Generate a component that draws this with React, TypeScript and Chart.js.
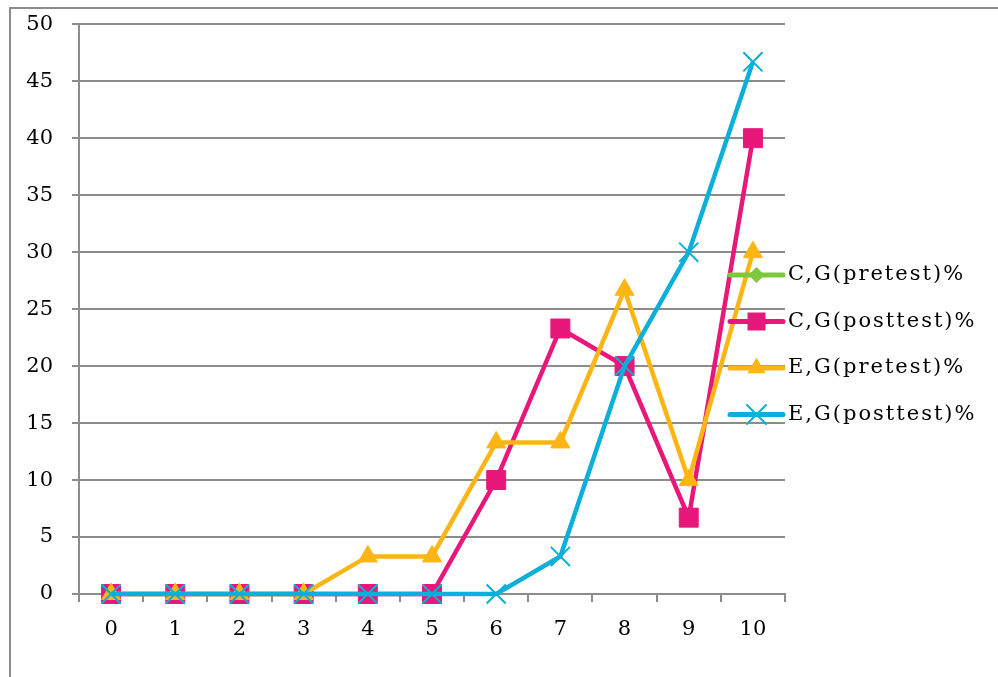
import React, { useEffect, useRef } from "react";
import { Chart, registerables } from "chart.js";

Chart.register(...registerables);

// Score categories on the horizontal axis
const scores = ["0", "1", "2", "3", "4", "5", "6", "7", "8", "9", "10"];

// Percentage of students per score
const cgPretest: (number | null)[] = [null, null, null, null, null, null, null, null, null, null, null];
const cgPosttest = [0, 0, 0, 0, 0, 0, 10, 23.3, 20, 6.7, 40];
const egPretest = [0, 0, 0, 0, 3.3, 3.3, 13.3, 13.3, 26.7, 10, 30];
const egPosttest = [0, 0, 0, 0, 0, 0, 0, 3.3, 20, 30, 46.7];

const seriesNames = ["C,G(pretest)%", "C,G(posttest)%", "E,G(pretest)%", "E,G(posttest)%"];
const seriesColors = ["#7DC83C", "#E8177A", "#FDB515", "#0BAFD9"];
const seriesMarkers = ["rectRot", "rect", "triangle", "crossRot"];

const GRID = "#8C8C8C";
const FONT = "'DejaVu Serif', serif";
const FONT_SIZE = 21;

function marker(ctx: CanvasRenderingContext2D, style: string, x: number, y: number, color: string) {
  ctx.save();
  ctx.fillStyle = color;
  ctx.strokeStyle = color;
  ctx.beginPath();
  if (style === "rect") {
    const h = 9;
    ctx.rect(x - h, y - h, 2 * h, 2 * h);
    ctx.fill();
  } else if (style === "rectRot") {
    const h = 8;
    ctx.moveTo(x, y - h);
    ctx.lineTo(x + h, y);
    ctx.lineTo(x, y + h);
    ctx.lineTo(x - h, y);
    ctx.closePath();
    ctx.fill();
  } else if (style === "triangle") {
    const r = 10.5;
    for (let i = 0; i < 3; i++) {
      const a = (i * 2 * Math.PI) / 3;
      const px = x + Math.sin(a) * r;
      const py = y - Math.cos(a) * r;
      if (i === 0) ctx.moveTo(px, py);
      else ctx.lineTo(px, py);
    }
    ctx.closePath();
    ctx.fill();
  } else if (style === "crossRot") {
    const h = 9.5;
    ctx.lineWidth = 2;
    ctx.moveTo(x - h, y - h);
    ctx.lineTo(x + h, y + h);
    ctx.moveTo(x - h, y + h);
    ctx.lineTo(x + h, y - h);
    ctx.stroke();
  }
  ctx.restore();
}

// Outer frame and a legend that sits over the right edge of the plot
const framePlugin = {
  id: "frame",
  beforeDraw(chart: Chart) {
    const ctx = chart.ctx;
    ctx.save();
    ctx.strokeStyle = GRID;
    ctx.lineWidth = 2;
    ctx.beginPath();
    ctx.moveTo(10, chart.height);
    ctx.lineTo(10, 8);
    ctx.lineTo(chart.width, 8);
    ctx.stroke();
    ctx.restore();
  },
  afterDraw(chart: Chart) {
    const ctx = chart.ctx;
    const area = chart.chartArea;
    const x0 = area.right - 55;
    const x1 = area.right - 2;
    const xm = (x0 + x1) / 2;
    ctx.save();
    chart.data.datasets.forEach((ds: any, i: number) => {
      const y = 275 + i * 46.5;
      ctx.strokeStyle = ds.borderColor;
      ctx.lineWidth = 5;
      ctx.lineCap = "round";
      ctx.beginPath();
      ctx.moveTo(x0, y);
      ctx.lineTo(x1, y);
      ctx.stroke();
      marker(ctx, seriesMarkers[i], xm, y, ds.borderColor);
      ctx.fillStyle = "#000";
      ctx.font = `${FONT_SIZE}px ${FONT}`;
      (ctx as any).letterSpacing = "2px";
      ctx.textAlign = "left";
      ctx.textBaseline = "middle";
      ctx.fillText(ds.label, area.right + 3, y);
    });
    ctx.restore();
  },
};

export default function App() {
  const canvasRef = useRef<HTMLCanvasElement | null>(null);

  useEffect(() => {
    document.body.style.margin = "0";
    const canvas = canvasRef.current;
    if (!canvas) return;
    const data = [cgPretest, cgPosttest, egPretest, egPosttest];
    const chart = new Chart(canvas, {
      type: "line",
      data: {
        labels: scores,
        datasets: data.map((values, i) => ({
          label: seriesNames[i],
          data: values,
          borderColor: seriesColors[i],
          backgroundColor: seriesColors[i],
          borderWidth: 4.5,
          pointStyle: seriesMarkers[i] as any,
          pointRadius: [10, 13.4, 11, 13.5][i],
          pointBorderWidth: i === 3 ? 2 : 1,
          pointBackgroundColor: seriesColors[i],
          pointBorderColor: seriesColors[i],
          tension: 0,
          clip: false as any,
          order: 4 - i,
        })),
      },
      options: {
        animation: false,
        responsive: true,
        maintainAspectRatio: false,
        layout: { padding: { top: 24, right: 213, bottom: 0, left: 0 } },
        plugins: {
          legend: { display: false },
          tooltip: { enabled: false },
        },
        scales: {
          x: {
            type: "category",
            offset: true,
            grid: {
              drawOnChartArea: false,
              offset: true,
              tickLength: 8,
              color: GRID,
              lineWidth: 2,
            },
            border: { color: GRID, width: 2 },
            ticks: {
              color: "#000",
              font: { family: FONT, size: FONT_SIZE },
              padding: 15,
              maxRotation: 0,
            },
            afterFit(scale: any) {
              scale.height = 83;
            },
          },
          y: {
            min: 0,
            max: 50,
            grid: { color: GRID, lineWidth: 2, tickLength: 7 },
            border: { color: GRID, width: 2 },
            ticks: {
              stepSize: 5,
              color: "#000",
              font: { family: FONT, size: FONT_SIZE, lineHeight: 0.5 },
              padding: 19,
            },
            afterFit(scale: any) {
              scale.width = 79;
            },
          },
        },
      },
      plugins: [framePlugin],
    });
    return () => chart.destroy();
  }, []);

  return (
    <div style={{ position: "relative", width: 998, height: 677 }}>
      <canvas ref={canvasRef} />
    </div>
  );
}
